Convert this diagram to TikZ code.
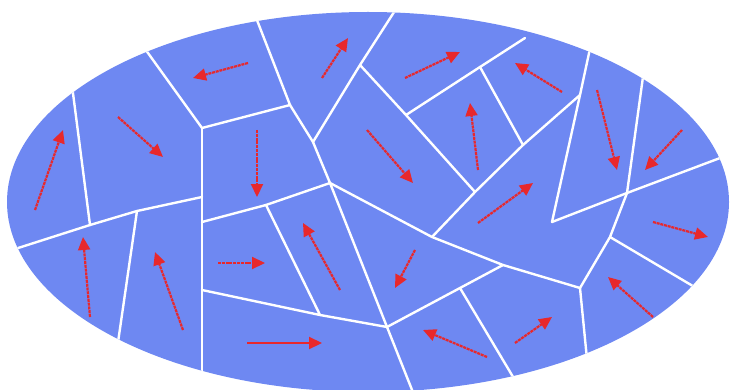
\documentclass[tikz,border=0pt]{standalone}
\usetikzlibrary{arrows.meta}
\definecolor{grainblue}{RGB}{110,136,242}
\definecolor{arrred}{RGB}{232,40,44}
\begin{document}
\begin{tikzpicture}[x=1pt,y=-1pt,
  boundary/.style={white,line width=2.4pt,line join=round,line cap=round},
  arr/.style={arrred,line width=2.2pt,dash pattern=on 3pt off 0.8pt,
    -{Triangle[length=13pt,width=12pt]}},
  arrsolid/.style={arrred,line width=2.2pt,-{Triangle[length=13pt,width=12pt]}}]
\useasboundingbox (0,0) rectangle (730,390);
\fill[grainblue] (368,202) ellipse [x radius=361pt,y radius=190pt];
% junctions
\coordinate (J1) at (202,128);
\coordinate (J2) at (290,105);
\coordinate (J3) at (313,142);
\coordinate (J4) at (330,183);
\coordinate (J5) at (360,65);
\coordinate (J6) at (406,115);
\coordinate (J7) at (480,67);
\coordinate (J8) at (475,192);
\coordinate (J9) at (523,145);
\coordinate (J10) at (580,95);
\coordinate (J11) at (552,222);
\coordinate (J12) at (627,193);
\coordinate (J13) at (610,237);
\coordinate (J14) at (580,288);
\coordinate (J15) at (432,237);
\coordinate (J16) at (503,265);
\coordinate (J17) at (387,327);
\coordinate (J18) at (460,288);
\coordinate (J19) at (202,222);
\coordinate (J20) at (266,205);
\coordinate (J21) at (320,315);
\coordinate (J22) at (202,290);
\coordinate (J23) at (137,211);
\coordinate (J24) at (202,197);
\coordinate (J25) at (90,225);
\coordinate (E7) at (525,38);
\begin{scope}
\clip (368,202) ellipse [x radius=361pt,y radius=190pt];
\draw[boundary] (135,35) -- (J1) -- (J2);
\draw[boundary] (J1) -- (202,400);
\draw[boundary] (248,-3) -- (J2) -- (J3) -- (J4);
\draw[boundary] (J3) -- (J5) -- (405,-5);
\draw[boundary] (J5) -- (J6) -- (J8);
\draw[boundary] (J6) -- (J7) -- (E7);
\draw[boundary] (J7) -- (J9);
\draw[boundary] (J8) -- (J9) -- (J10);
\draw[boundary] (594,30) -- (J10) -- (J11);
\draw[boundary] (J11) -- (J12) -- (760,143);
\draw[boundary] (646,55) -- (J12) -- (J13) -- (J14) -- (591,400);
\draw[boundary] (J13) -- (730,308);
\draw[boundary] (J15) -- (J8);
\draw[boundary] (J4) -- (J15) -- (J16) -- (J14);
\draw[boundary] (J4) -- (J17) -- (420,410);
\draw[boundary] (J17) -- (J18) -- (J16);
\draw[boundary] (J18) -- (525,397);
\draw[boundary] (J4) -- (J20) -- (J19);
\draw[boundary] (J20) -- (J21);
\draw[boundary] (J22) -- (J21) -- (J17);
\draw[boundary] (-10,257) -- (J25) -- (J23) -- (J24);
\draw[boundary] (J23) -- (114,370);
\draw[boundary] (70,70) -- (J25);
\end{scope}
% orientation arrows
\draw[arr] (35,210) -- (63,130);
\draw[arr] (118,117) -- (163,157);
\draw[arr] (248,63) -- (193,78);
\draw[arr] (257,130) -- (257,197);
\draw[arr] (322,78) -- (348,38);
\draw[arr] (405,78) -- (460,52);
\draw[arr] (562,92) -- (515,63);
\draw[arr] (478,170) -- (470,103);
\draw[arr] (367,130) -- (413,183);
\draw[arr] (597,90) -- (617,170);
\draw[arr] (682,130) -- (645,170);
\draw[arr] (478,223) -- (533,183);
\draw[arr] (653,222) -- (708,237);
\draw[arr] (415,250) -- (395,288);
\draw[arr] (487,357) -- (423,330);
\draw[arr] (515,343) -- (552,317);
\draw[arr] (653,317) -- (608,277);
\draw[arr] (90,317) -- (83,237);
\draw[arr] (183,330) -- (155,252);
\draw[arr] (218,263) -- (265,263);
\draw[arr] (340,290) -- (303,223);
\draw[arrsolid] (247,343) -- (322,343);
\end{tikzpicture}
\end{document}
